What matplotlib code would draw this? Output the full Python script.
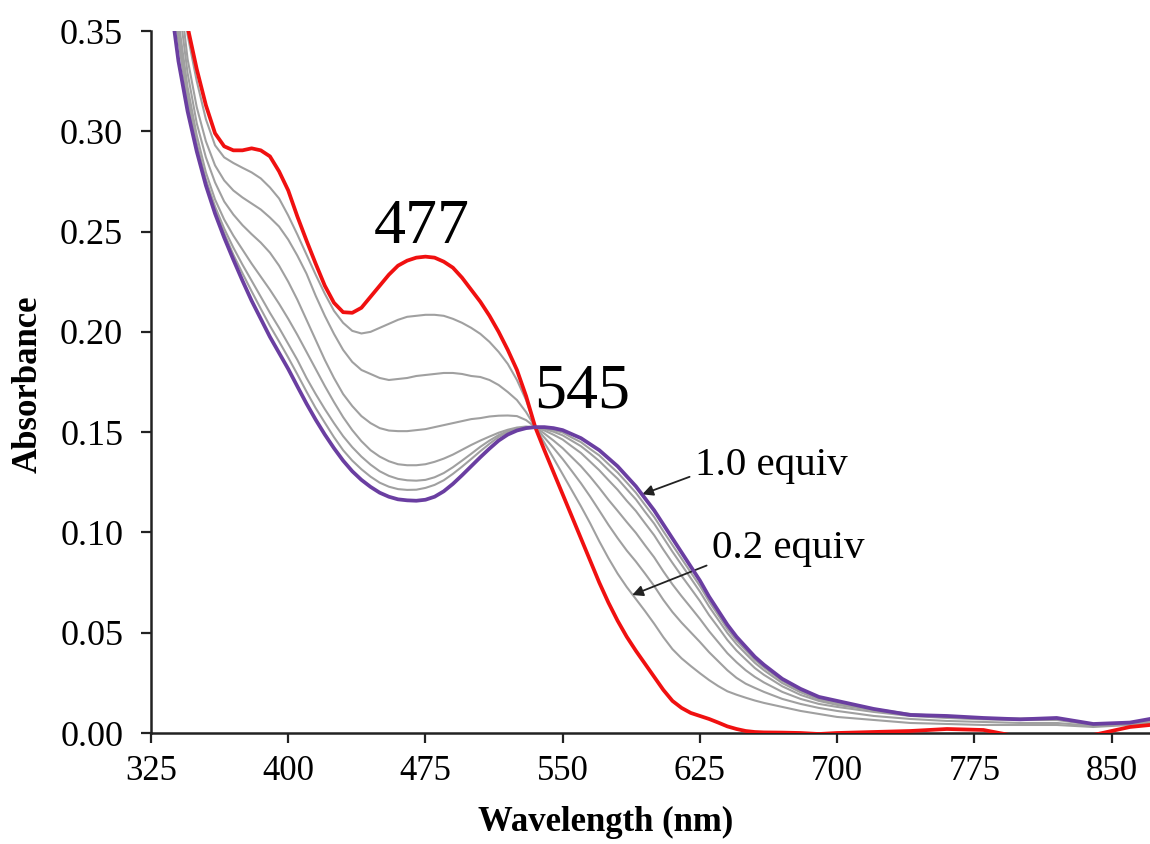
import matplotlib
matplotlib.use("Agg")
import matplotlib.pyplot as plt

# ---------------- data ----------------
wavelength = [332, 340, 345, 350, 355, 360, 365, 370, 375, 380, 385, 390, 395, 400, 405,
              410, 415, 420, 425, 430, 435, 440, 445, 450, 455, 460, 465, 470, 475, 480,
              485, 490, 495, 500, 505, 510, 515, 520, 525, 530, 535, 540, 545, 550, 555,
              560, 565, 570, 575, 580, 585, 590, 595, 600, 605, 610, 615, 620, 625, 630,
              635, 640, 645, 650, 655, 660, 670, 680, 690, 700, 720, 740, 760, 780, 800,
              820, 840, 860, 871]

abs_0equiv = [0.45, 0.40, 0.352, 0.331, 0.313, 0.299, 0.2925, 0.2905, 0.2905, 0.2915, 0.2905, 0.2875, 0.280, 0.2705, 0.2575,
              0.2455, 0.234, 0.223, 0.2145, 0.2098, 0.2095, 0.212, 0.2175, 0.223, 0.2285, 0.233, 0.2355, 0.237, 0.2375, 0.237,
              0.235, 0.232, 0.227, 0.221, 0.215, 0.208, 0.200, 0.191, 0.181, 0.168, 0.1525, 0.141, 0.130, 0.119, 0.108,
              0.097, 0.086, 0.075, 0.065, 0.056, 0.048, 0.041, 0.0345, 0.028, 0.0215, 0.016, 0.0125, 0.010, 0.0085, 0.007,
              0.0052, 0.0033, 0.002, 0.001, 0.0005, 0.0003, 0.0002, 0.0, -0.0005, 0.0, 0.0005, 0.001, 0.002, 0.0015, -0.002,
              -0.003, -0.001, 0.003, 0.004]

abs_g1 = [0.44, 0.39, 0.348, 0.325, 0.306, 0.293, 0.287, 0.2842, 0.2818, 0.2795, 0.2765, 0.272, 0.2665, 0.258, 0.2485,
          0.2385, 0.2285, 0.219, 0.2105, 0.2045, 0.2005, 0.1992, 0.200, 0.202, 0.204, 0.206, 0.2075, 0.208, 0.2085, 0.2085,
          0.208, 0.2065, 0.2045, 0.202, 0.199, 0.195, 0.190, 0.184, 0.176, 0.166, 0.1525, 0.1447, 0.137, 0.129, 0.121,
          0.113, 0.1046, 0.0956, 0.0872, 0.0795, 0.0728, 0.0668, 0.0608, 0.0545, 0.0478, 0.0418, 0.0372, 0.0334, 0.0298, 0.0264,
          0.0234, 0.0208, 0.0191, 0.0176, 0.0162, 0.015, 0.013, 0.011, 0.0095, 0.008, 0.0065, 0.005, 0.0045, 0.004, 0.004,
          0.004, 0.003, 0.004, 0.004]

abs_g2 = [0.43, 0.375, 0.336, 0.312, 0.295, 0.283, 0.2755, 0.2705, 0.267, 0.264, 0.261, 0.257, 0.2525, 0.246, 0.238,
          0.229, 0.218, 0.208, 0.199, 0.191, 0.185, 0.181, 0.179, 0.177, 0.176, 0.1765, 0.177, 0.178, 0.1785, 0.179,
          0.1795, 0.1795, 0.179, 0.178, 0.1775, 0.176, 0.1735, 0.170, 0.166, 0.160, 0.1525, 0.1473, 0.1421, 0.1366, 0.1306,
          0.1245, 0.1179, 0.1109, 0.1038, 0.0972, 0.0910, 0.0855, 0.0795, 0.0733, 0.0664, 0.0603, 0.0550, 0.0502, 0.0454, 0.0403,
          0.0358, 0.0313, 0.0275, 0.0246, 0.0225, 0.0205, 0.017, 0.0145, 0.0125, 0.011, 0.0085, 0.007, 0.006, 0.0055, 0.005,
          0.005, 0.0035, 0.0045, 0.0045]

abs_g3 = [0.42, 0.365, 0.329, 0.304, 0.287, 0.2745, 0.265, 0.2585, 0.2532, 0.2487, 0.2445, 0.2395, 0.233, 0.225, 0.216,
          0.206, 0.196, 0.186, 0.177, 0.169, 0.163, 0.158, 0.1545, 0.152, 0.1508, 0.1505, 0.1505, 0.151, 0.1515, 0.1525,
          0.1535, 0.1545, 0.1555, 0.1565, 0.157, 0.1578, 0.1582, 0.1583, 0.158, 0.156, 0.1525, 0.1493, 0.1458, 0.1420, 0.1375,
          0.1330, 0.1278, 0.1222, 0.1163, 0.1108, 0.1052, 0.0998, 0.0936, 0.0876, 0.0806, 0.0741, 0.0682, 0.0626, 0.0569, 0.0508,
          0.0453, 0.0398, 0.0353, 0.0313, 0.028, 0.0252, 0.0205, 0.0170, 0.0145, 0.013, 0.0105, 0.0085, 0.0075, 0.0068, 0.0065,
          0.0065, 0.004, 0.005, 0.005]

abs_g4 = [0.41, 0.355, 0.322, 0.298, 0.2795, 0.266, 0.256, 0.248, 0.241, 0.234, 0.2275, 0.221, 0.214, 0.2065, 0.1985,
          0.190, 0.1815, 0.173, 0.165, 0.1575, 0.151, 0.1455, 0.141, 0.1378, 0.1355, 0.134, 0.1335, 0.1335, 0.134, 0.1352,
          0.1368, 0.1388, 0.1412, 0.1436, 0.1458, 0.1478, 0.1497, 0.1512, 0.1523, 0.1528, 0.1525, 0.1508, 0.1487, 0.1463, 0.1429,
          0.1396, 0.1353, 0.1310, 0.1261, 0.1213, 0.1158, 0.1107, 0.1046, 0.0986, 0.0915, 0.0848, 0.0783, 0.0721, 0.0658, 0.0588,
          0.0527, 0.0464, 0.0411, 0.0367, 0.0324, 0.029, 0.0233, 0.019, 0.016, 0.014, 0.0113, 0.009, 0.0078, 0.007, 0.0068,
          0.007, 0.0042, 0.0052, 0.006]

abs_g5 = [0.40, 0.35, 0.318, 0.294, 0.276, 0.2625, 0.2515, 0.242, 0.2335, 0.2255, 0.2175, 0.2095, 0.202, 0.194, 0.186,
          0.177, 0.169, 0.1615, 0.1545, 0.148, 0.1425, 0.1378, 0.1338, 0.1305, 0.1282, 0.1267, 0.126, 0.1258, 0.1262, 0.1275,
          0.1296, 0.1325, 0.1358, 0.1392, 0.1427, 0.1458, 0.1485, 0.1505, 0.1517, 0.1524, 0.1525, 0.1516, 0.1502, 0.1484, 0.1457,
          0.1430, 0.1394, 0.1356, 0.1311, 0.1268, 0.1216, 0.1165, 0.1103, 0.1044, 0.0974, 0.0904, 0.0838, 0.0772, 0.0705, 0.0631,
          0.0565, 0.0499, 0.0443, 0.0396, 0.035, 0.0313, 0.0249, 0.0203, 0.0167, 0.0148, 0.0116, 0.0092, 0.008, 0.0072, 0.007,
          0.0072, 0.0043, 0.0052, 0.0062]

abs_g6 = [0.395, 0.345, 0.315, 0.292, 0.2735, 0.2608, 0.2492, 0.2385, 0.2292, 0.2202, 0.2115, 0.203, 0.1952, 0.1872, 0.1788,
          0.1702, 0.162, 0.1547, 0.1475, 0.141, 0.1358, 0.1315, 0.1278, 0.1248, 0.1228, 0.1216, 0.1212, 0.1213, 0.1222, 0.1237,
          0.126, 0.1292, 0.1328, 0.1366, 0.1405, 0.1442, 0.1476, 0.1501, 0.1516, 0.1523, 0.1525, 0.152, 0.151, 0.1498, 0.1473,
          0.1450, 0.1416, 0.1384, 0.1341, 0.1299, 0.1249, 0.1198, 0.1137, 0.1077, 0.1006, 0.0937, 0.0869, 0.0801, 0.0733, 0.0656,
          0.0588, 0.0519, 0.0461, 0.0413, 0.0365, 0.0327, 0.026, 0.0211, 0.0173, 0.0154, 0.012, 0.0095, 0.0082, 0.0074, 0.0072,
          0.0073, 0.0044, 0.0052, 0.0064]

abs_1equiv = [0.39, 0.335, 0.31, 0.29, 0.273, 0.259, 0.247, 0.236, 0.2255, 0.2155, 0.2065, 0.1975, 0.1895, 0.1815, 0.1728,
              0.1642, 0.1562, 0.1488, 0.142, 0.1358, 0.1305, 0.1262, 0.1227, 0.1198, 0.1178, 0.1165, 0.116, 0.1158, 0.1163, 0.1178,
              0.1205, 0.1242, 0.1285, 0.133, 0.1375, 0.1418, 0.1458, 0.1488, 0.1508, 0.152, 0.1525, 0.1525, 0.152, 0.151, 0.149,
              0.147, 0.144, 0.141, 0.137, 0.133, 0.128, 0.123, 0.117, 0.111, 0.104, 0.097, 0.090, 0.083, 0.076, 0.068,
              0.061, 0.054, 0.048, 0.043, 0.038, 0.034, 0.027, 0.022, 0.018, 0.016, 0.012, 0.009, 0.0085, 0.0075, 0.0068,
              0.0075, 0.0045, 0.0052, 0.007]

gray_series = [abs_g1, abs_g2, abs_g3, abs_g4, abs_g5, abs_g6]

x_ticks = [325, 400, 475, 550, 625, 700, 775, 850]
y_ticks = [0.00, 0.05, 0.10, 0.15, 0.20, 0.25, 0.30, 0.35]

# ---------------- figure ----------------
plt.rcParams['font.family'] = ['Liberation Serif', 'DejaVu Serif']
W, H = 1150, 844
fig = plt.figure(figsize=(W / 100, H / 100), dpi=100)
ax = fig.add_axes([151 / W, 1 - 733 / H, 1 - 151 / W, (733 - 31) / H])

for g in gray_series:
    ax.plot(wavelength, g, color='#a0a0a0', lw=1.5, solid_joinstyle='round',
            solid_capstyle='round', zorder=2)
ax.plot(wavelength, abs_0equiv, color='#f01010', lw=2.7, solid_joinstyle='round', zorder=3)
ax.plot(wavelength, abs_1equiv, color='#6a3ea1', lw=2.7, solid_joinstyle='round', zorder=4)

ax.set_xlim(325, 871)
ax.set_ylim(0, 0.35)
ax.set_xticks(x_ticks)
ax.set_yticks(y_ticks)
ax.set_yticklabels([f"{v:.2f}" for v in y_ticks])
ax.tick_params(axis='both', labelsize=25, width=1.6, length=7, direction='out', color='#222222')
ax.tick_params(axis='x', pad=9)
ax.tick_params(axis='y', labelsize=26, pad=13)
for s in ['top', 'right']:
    ax.spines[s].set_visible(False)
for s in ['left', 'bottom']:
    ax.spines[s].set_linewidth(1.8)
    ax.spines[s].set_color('#222222')

fig.text(606 / W, 1 - 822 / H, 'Wavelength (nm)', fontsize=25, fontweight='bold',
         ha='center', va='center')
fig.text(28 / W, 1 - 384 / H, 'Absorbance', fontsize=25, fontweight='bold',
         ha='center', va='center', rotation=90)

ax.text(473, 0.2443, '477', fontsize=46, ha='center', va='baseline')
ax.text(560.5, 0.1625, '545', fontsize=46, ha='center', va='baseline')

ax.annotate('1.0 equiv', xy=(593.5, 0.119), xytext=(622.3, 0.1286), fontsize=29.5,
            ha='left', va='baseline',
            arrowprops=dict(arrowstyle='-|>', color='#222222', lw=1.3, mutation_scale=16,
                            shrinkA=2, shrinkB=0, relpos=(0.0, 0.25)))
ax.annotate('0.2 equiv', xy=(588, 0.0688), xytext=(631.6, 0.0872), fontsize=29.5,
            ha='left', va='baseline',
            arrowprops=dict(arrowstyle='-|>', color='#222222', lw=1.3, mutation_scale=16,
                            shrinkA=2, shrinkB=0, relpos=(0.0, 0.1)))

fig.savefig('out.png', dpi=100)
